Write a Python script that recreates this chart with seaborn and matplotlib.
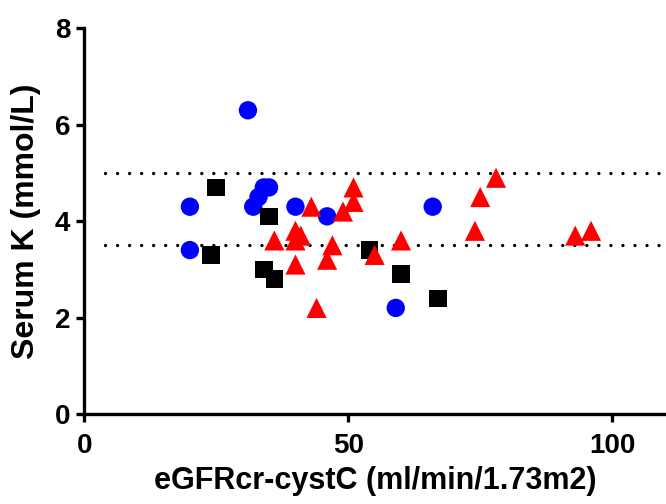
import numpy as np
import pandas as pd
import matplotlib
matplotlib.use('Agg')
import matplotlib.pyplot as plt
import seaborn as sns

sns.set_theme(style='white')
plt.rcParams['font.family'] = ['Liberation Sans', 'DejaVu Sans']
plt.rcParams['font.weight'] = 'bold'
plt.rcParams['text.color'] = 'black'
plt.rcParams['axes.labelcolor'] = 'black'

# blue circles
blue_x = [20, 20, 31, 32, 33, 34, 35, 40, 46, 66, 59]
blue_y = [4.3, 3.4, 6.3, 4.3, 4.5, 4.7, 4.7, 4.3, 4.1, 4.3, 2.2]
# black squares
black_x = [25, 35, 24, 34, 36, 54, 60, 67]
black_y = [4.7, 4.1, 3.3, 3.0, 2.8, 3.4, 2.9, 2.4]
# red triangles
red_x = [36, 40, 41, 40, 40, 43, 44, 46, 47, 49, 51, 51, 55, 60, 74, 75, 78, 93, 96]
red_y = [3.6, 3.8, 3.7, 3.6, 3.1, 4.3, 2.2, 3.2, 3.5, 4.2, 4.7, 4.4, 3.3, 3.6, 3.8, 4.5, 4.9, 3.7, 3.8]

ref_lines = [5.0, 3.5]
xticks = [0, 50, 100]
yticks = [0, 2, 4, 6, 8]

df = pd.concat([
    pd.DataFrame({'egfr': blue_x, 'k': blue_y, 'grp': 'blue'}),
    pd.DataFrame({'egfr': black_x, 'k': black_y, 'grp': 'black'}),
    pd.DataFrame({'egfr': red_x, 'k': red_y, 'grp': 'red'}),
])

fig = plt.figure(figsize=(6.66, 5.04), dpi=100)
ax = fig.add_axes([0.1266, 0.1786, 0.8734, 0.7652])

#dotted reference lines
for yv in ref_lines:
    ax.hlines(yv, 4, 110.2, colors='black', linewidth=2.4,
              linestyles=(0, (0.01, 3.6)), capstyle='round', zorder=1)

sns.scatterplot(data=df, x='egfr', y='k', hue='grp', style='grp', size='grp',
                palette={'blue': '#0000ff', 'black': '#000000', 'red': '#ff0000'},
                markers={'blue': 'o', 'black': 's', 'red': '^'},
                sizes={'blue': 175, 'black': 160, 'red': 210},
                linewidth=0, legend=False, ax=ax, zorder=3)

ax.set_xlim(0, 110.2)
ax.set_ylim(0, 8)
ax.set_xticks(xticks)
ax.set_yticks(yticks)
ax.set_xticklabels([str(t) for t in xticks])
ax.set_yticklabels([str(t) for t in yticks])

for side in ['top', 'right']:
    ax.spines[side].set_visible(False)
for side in ['left', 'bottom']:
    ax.spines[side].set_linewidth(2.4)
    ax.spines[side].set_color('black')

ax.tick_params(axis='both', which='major', direction='out', length=6, width=2.4,
               color='black', labelsize=20, labelcolor='black')
ax.tick_params(axis='x', pad=8, bottom=True)
ax.tick_params(axis='y', pad=4, left=True)

ax.set_xlabel('eGFRcr-cystC (ml/min/1.73m2)', fontsize=22, fontweight='bold', labelpad=5)
ax.set_ylabel('Serum K (mmol/L)', fontsize=23, fontweight='bold', labelpad=10)

fig.savefig('out.png', dpi=100)
